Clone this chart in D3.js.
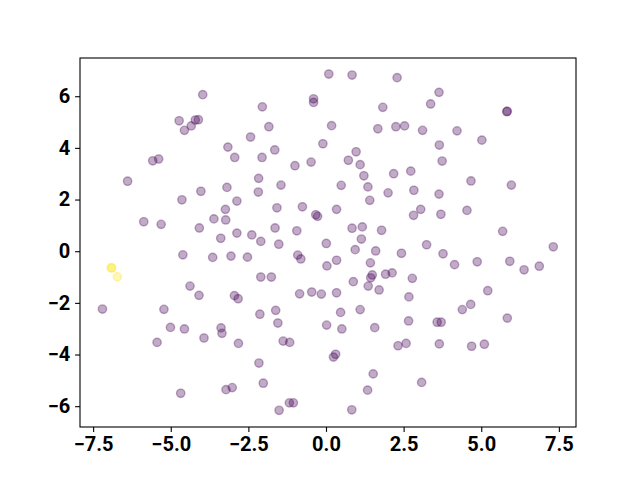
<!DOCTYPE html>
<html lang="en">
<head>
    <meta charset="UTF-8">
    <script src="https://cdn.jsdelivr.net/npm/d3@7"></script>
    <style>
body {
    margin: 0;
    background-color: #fff;
}

.axis path {
    display: none;
}

.axis line {
    stroke: #000;
    stroke-width: 1.1px;
}

.axis text {
    font-family: Roboto, "Liberation Sans", Arial, sans-serif;
    font-weight: bold;
    font-size: 20px;
    fill: #000;
}
    </style>
</head>
<body>
    <div id="chart"></div>
    <script>
        // values
        const xValues = [
            -3.97, -4.73, -4.56, -4.34, -4.21, -4.11, -3.16, -2.94, -5.58, -5.39,
            -6.39, -3.19, -4.03, -4.64, -2.87, -3.24, -3.61, -3.23, -5.87, -5.31,
            -4.08, -2.87, -3.39, 0.09, 0.84, 2.29, -0.40, -0.40, -2.05, 1.83,
            -1.84, 0.18, 1.67, 2.25, 2.53, -2.43, -0.10, -1.65, 0.97, -2.06,
            0.72, 1.10, -1.00, -0.48, 1.22, 2.18, 2.73, -2.17, -1.45, 0.49,
            1.35, -2.18, 2.00, 2.83, 1.41, -1.58, -0.76, -0.33, -0.27, 0.34,
            2.82, -2.39, -2.10, -1.64, -0.94, -1.52, 0.01, 0.84, 1.17, 1.14,
            1.79, 3.64, 3.37, 5.82, 5.84, 3.11, 4.22, 5.02, 3.65, 3.74,
            4.67, 5.97, 3.64, 3.05, 3.70, 4.54, 5.69, 3.24, 7.32, -4.61,
            -3.65, -3.06, -2.53, -4.38, -4.09, -2.95, -2.83, -7.20, -5.22, -5.01,
            -4.56, -3.38, -3.35, -3.93, -5.44, -2.82, -4.68, -3.22, -3.02, 0.94,
            1.60, 2.43, -0.91, -0.81, 0.03, 0.34, 1.43, -2.10, -1.76, 0.88,
            1.49, 1.44, 1.36, 1.71, 1.92, 2.13, 2.78, -0.85, -0.46, -0.15,
            0.34, 2.67, -2.13, -1.62, -1.55, 0.47, 1.10, 0.02, 0.51, 1.57,
            2.66, -1.38, -1.17, 2.32, 2.58, 0.31, 0.24, -2.16, -2.02, 1.52,
            1.34, -1.18, -1.05, -1.51, 0.83, 3.77, 4.14, 4.87, 5.92, 6.38,
            6.87, 5.21, 4.39, 4.66, 5.84, 3.58, 3.71, 3.65, 4.69, 5.10,
            3.08, -6.92, -6.90, -6.72
        ];
        const yValues = [
            6.06, 5.05, 4.68, 4.85, 5.08, 5.09, 4.03, 3.63, 3.50, 3.57,
            2.71, 2.47, 2.32, 1.99, 1.94, 1.62, 1.25, 1.21, 1.14, 1.04,
            0.90, 0.70, 0.50, 6.86, 6.82, 6.72, 5.90, 5.76, 5.59, 5.57,
            4.82, 4.86, 4.74, 4.82, 4.85, 4.42, 4.16, 3.92, 3.85, 3.63,
            3.52, 3.35, 3.31, 3.45, 2.92, 3.00, 3.10, 2.82, 2.56, 2.55,
            2.49, 2.29, 2.26, 2.36, 1.97, 1.68, 1.72, 1.41, 1.35, 1.62,
            1.39, 0.63, 0.38, 0.90, 0.79, 0.27, 0.30, 0.89, 0.94, 0.47,
            0.81, 6.15, 5.70, 5.40, 5.42, 4.68, 4.66, 4.30, 4.11, 3.49,
            2.72, 2.56, 2.21, 1.62, 1.43, 1.58, 0.77, 0.25, 0.17, -0.14,
            -0.24, -0.19, -0.23, -1.35, -1.71, -1.72, -1.84, -2.24, -2.25, -2.95,
            -3.01, -2.97, -3.18, -3.36, -3.53, -3.57, -5.50, -5.36, -5.28, 0.06,
            0.01, -0.08, -0.15, -0.30, -0.57, -0.35, -0.45, -1.00, -1.00, -1.18,
            -0.92, -1.03, -1.35, -1.50, -0.89, -0.84, -1.05, -1.65, -1.58, -1.66,
            -1.61, -1.77, -2.44, -2.29, -2.78, -2.37, -2.26, -2.86, -3.01, -2.96,
            -2.70, -3.48, -3.53, -3.66, -3.57, -3.99, -4.10, -4.33, -5.11, -4.75,
            -5.38, -5.87, -5.87, -6.16, -6.14, -0.10, -0.52, -0.41, -0.39, -0.72,
            -0.58, -1.53, -2.26, -2.06, -2.59, -2.75, -2.75, -3.59, -3.68, -3.60,
            -5.08, -0.64, -0.65, -0.99
        ];
        // cluster label of each point (0 = purple, 1 = yellow)
        const labels = xValues.map((d, i) => i >= 171 ? 1 : 0);
        const xTicks = [-7.5, -5.0, -2.5, 0.0, 2.5, 5.0, 7.5];
        const yTicks = [-6, -4, -2, 0, 2, 4, 6];

        const margin = {top: 58, right: 64, bottom: 53, left: 80},
            width = 640 - margin.left - margin.right,
            height = 480 - margin.top - margin.bottom;

        const x = d3.scaleLinear()
            .domain([-7.923, 8.052])
            .range([0, width]);

        const y = d3.scaleLinear()
            .domain([-6.806, 7.48])
            .range([height, 0]);

        const color = d3.scaleOrdinal()
            .domain([0, 1])
            .range(["#440154", "#fde725"]);

        const svg = d3.select("#chart").append("svg")
            .attr("width", 640)
            .attr("height", 480)
            .append("g")
            .attr("transform", `translate(${margin.left},${margin.top})`);

        const minus = s => s.replace("-", "\u2212");

        // X Axis
        svg.append("g")
            .attr("class", "x axis")
            .attr("transform", `translate(0,${height})`)
            .call(d3.axisBottom(x)
                .tickValues(xTicks)
                .tickFormat(d => minus(d.toFixed(1)))
                .tickSize(4.9)
                .tickPadding(4.9));

        // Y Axis
        svg.append("g")
            .attr("class", "y axis")
            .call(d3.axisLeft(y)
                .tickValues(yTicks)
                .tickFormat(d => minus(String(d)))
                .tickSize(4.9)
                .tickPadding(4.9));

        // scatter points
        svg.selectAll(".dot")
            .data(xValues.map((d, i) => ({x: d, y: yValues[i], c: labels[i]})))
            .enter().append("circle")
            .attr("class", "dot")
            .attr("cx", d => x(d.x))
            .attr("cy", d => y(d.y))
            .attr("r", 4.17)
            .attr("fill", d => color(d.c))
            .attr("fill-opacity", 0.33)
            .attr("stroke", d => color(d.c))
            .attr("stroke-opacity", 0.33)
            .attr("stroke-width", 1.39);

        // frame
        svg.append("rect")
            .attr("width", width)
            .attr("height", height)
            .attr("fill", "none")
            .attr("stroke", "#000")
            .attr("stroke-width", 1.1);
    </script>
</body>
</html>
